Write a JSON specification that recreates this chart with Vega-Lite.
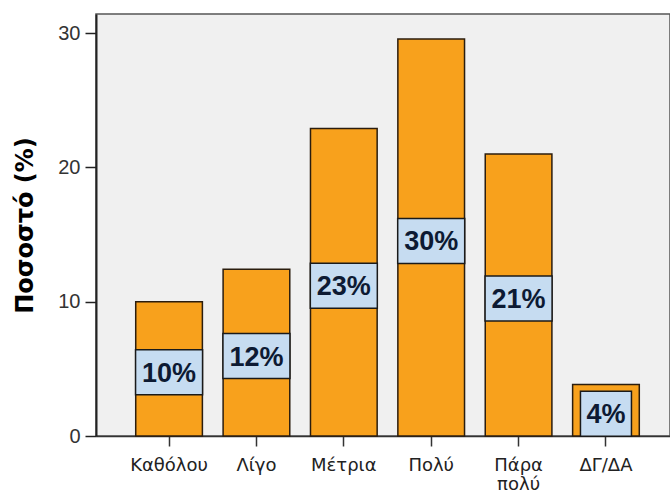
{
  "$schema": "https://vega.github.io/schema/vega-lite/v6.json",
  "width": 574,
  "height": 422,
  "autosize": {"type": "none"},
  "padding": {"left": 96, "top": 14, "right": 0, "bottom": 58},
  "background": "white",
  "config": {"view": {"fill": "#f0f0f0", "stroke": "#555555", "strokeWidth": 1.5}},
  "data": {"values": [
    {"category": "Καθόλου", "value": 10.0, "label": "10%"},
    {"category": "Λίγο", "value": 12.42, "label": "12%"},
    {"category": "Μέτρια", "value": 22.9, "label": "23%"},
    {"category": "Πολύ", "value": 29.56, "label": "30%"},
    {"category": "Πάρα πολύ", "value": 21.0, "label": "21%"},
    {"category": "ΔΓ/ΔΑ", "value": 3.83, "label": "4%"}
  ]},
  "layer": [
    {
      "mark": {"type": "bar", "fill": "#f8a11c", "stroke": "#2b1d0e", "strokeWidth": 1.5},
      "encoding": {
        "x": {
          "field": "category", "type": "nominal", "sort": null,
          "scale": {"paddingInner": 0.237, "paddingOuter": 0.403, "align": 0.564},
          "axis": {
            "title": null, "labelAngle": 0, "labelFont": "DejaVu Sans", "labelFontSize": 18,
            "labelColor": "#222222", "labelPadding": 10, "tickSize": 10, "tickColor": "#333333",
            "tickWidth": 1.5, "domainColor": "#333333", "domainWidth": 1.5,
            "labelExpr": "split(datum.label, ' ')", "labelLineHeight": 19, "labelBaseline": "top"
          }
        },
        "y": {
          "field": "value", "type": "quantitative",
          "scale": {"domain": [0, 31.42], "nice": false, "zero": true},
          "axis": {
            "title": "Ποσοστό (%)", "titleFont": "DejaVu Sans", "titleFontSize": 24,
            "titleFontWeight": "bold", "titleColor": "#000000", "titlePadding": 20,
            "values": [0, 10, 20, 30], "grid": false, "labelFont": "Liberation Sans",
            "labelFontSize": 20, "labelColor": "#333333", "labelPadding": 5, "tickSize": 11,
            "tickColor": "#222222", "tickWidth": 1.5, "domainColor": "#222222", "domainWidth": 2
          }
        }
      }
    },
    {
      "mark": {"type": "tick", "fill": "#c6dcf1", "stroke": "#1a1a1a", "strokeWidth": 1.5, "thickness": 45, "opacity": 1, "yOffset": 3.5},
      "encoding": {
        "x": {"field": "category", "type": "nominal", "sort": null},
        "y": {"field": "value", "type": "quantitative", "scale": {"domain": [0, 62.84], "nice": false}, "axis": null},
        "size": {"condition": {"test": "datum.category === 'ΔΓ/ΔΑ'", "value": 51}, "value": 67}
      }
    },
    {
      "mark": {"type": "text", "font": "Liberation Sans", "fontWeight": "bold", "fontSize": 27, "fill": "#0d1a33", "baseline": "middle", "yOffset": 5},
      "encoding": {
        "x": {"field": "category", "type": "nominal", "sort": null},
        "y": {"field": "value", "type": "quantitative", "scale": {"domain": [0, 62.84], "nice": false}, "axis": null},
        "text": {"field": "label"}
      }
    }
  ],
  "resolve": {"scale": {"y": "independent"}}
}
